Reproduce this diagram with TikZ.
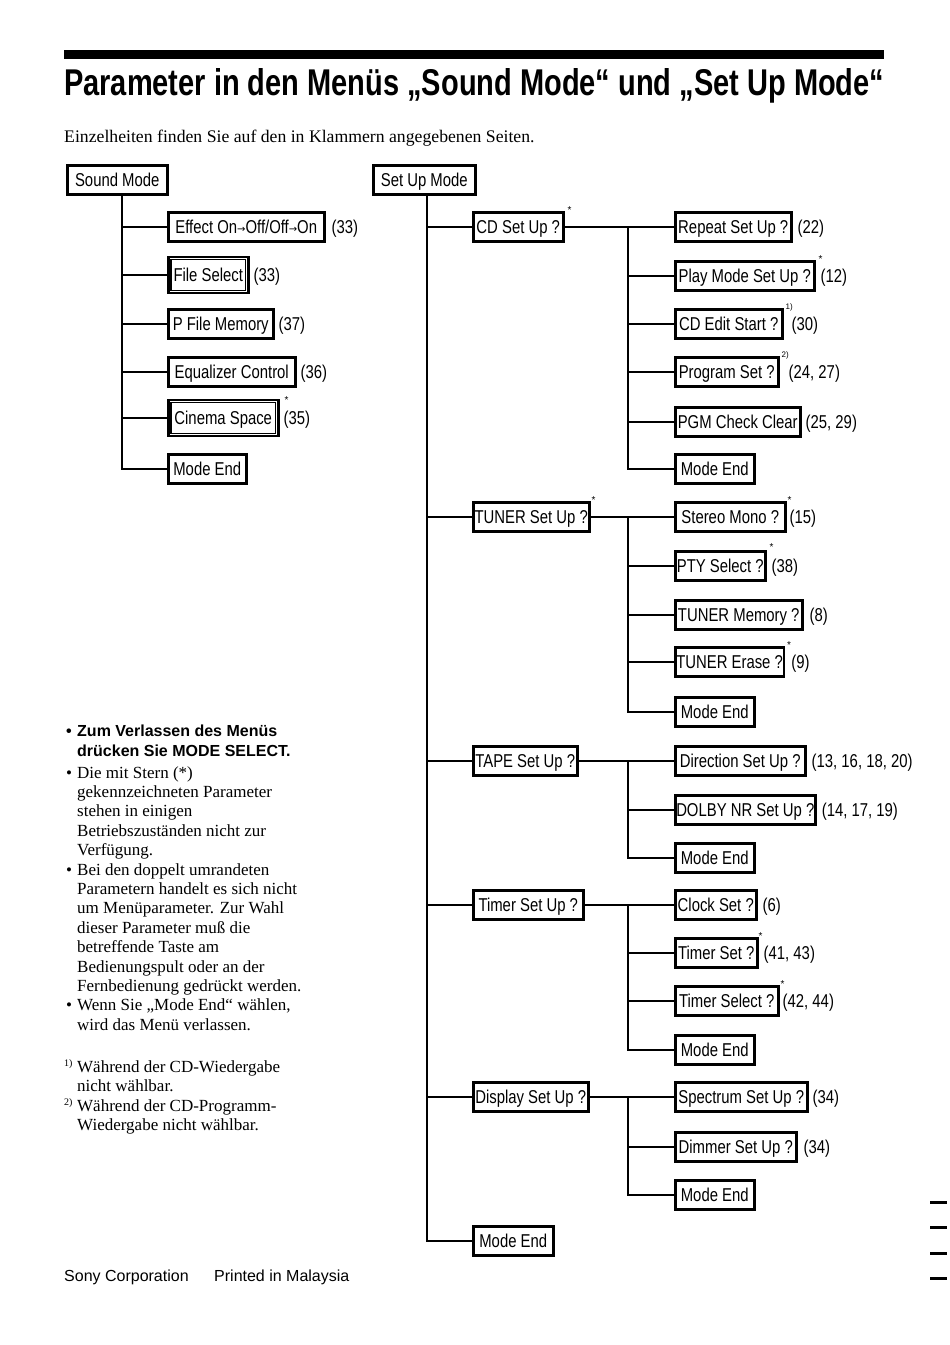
\documentclass[tikz,border=0pt]{standalone}
\usepackage{fontspec}
\usepackage{graphicx}
\setmainfont{Liberation Serif}
\newfontfamily\cond[FakeStretch=0.8]{Liberation Sans}
\newfontfamily\hsans{Liberation Sans}
\newfontfamily\djv{DejaVu Sans}
\usetikzlibrary{positioning}
\newcommand\arr{{\djv\fontsize{10}{10}\selectfont\raisebox{1.5pt}{→}}}
\begin{document}
\begin{tikzpicture}[x=1pt,y=-1pt,
  box/.style={draw, line width=2.5pt, minimum height=29pt, inner xsep=1pt, inner ysep=0pt, anchor=west,
    font=\cond\fontsize{18.6}{18.6}\selectfont, text height=13.3pt, text depth=0pt},
  dbox/.style={box, minimum height=36pt},
  pg/.style={inner sep=0pt, font=\cond\fontsize{18.6}{18.6}\selectfont, text height=13.3pt, text depth=0pt},
  stari/.style={inner sep=0pt, font=\hsans\fontsize{10}{10}\selectfont},
  supi/.style={anchor=west, inner sep=0pt, font=\hsans\fontsize{8}{8}\selectfont},
  conn/.style={line width=2.3pt},
  note/.style={anchor=base west, inner sep=0pt, font=\fontsize{17}{17}\selectfont},
  notebold/.style={anchor=base west, inner sep=0pt, font=\hsans\bfseries\fontsize{16}{16}\selectfont},
  fnm/.style={anchor=base west, inner sep=0pt, font=\fontsize{10}{10}\selectfont},
  foot/.style={anchor=base west, inner sep=0pt, font=\hsans\fontsize{16}{16}\selectfont}
]
\useasboundingbox (0,0) rectangle (950,1345);

% header
\fill (64,50) rectangle (884,59);
\node[anchor=base west, inner sep=0pt] (title) at (64,95)
  {\resizebox{820pt}{27pt}{\hsans\bfseries Parameter in den Menüs „Sound Mode“ und „Set Up Mode“}};
\node[note, font=\fontsize{17.7}{17.7}\selectfont] (sub) at (64,142) {Einzelheiten finden Sie auf den in Klammern angegebenen Seiten.};

% ---------------- Sound Mode ----------------
\node[box, minimum width=100pt] (sm) at (66,180) {Sound Mode};
\node[box, minimum width=156pt] (s1) at (167,227) {Effect On\arr Off/Off\arr On};
\node[dbox, minimum width=80pt] (s2) at (167,275) {File Select};
\node[box, minimum width=105pt] (s3) at (167,324) {P File Memory};
\node[box, minimum width=127pt] (s4) at (167,372) {Equalizer Control};
\node[dbox, minimum width=110pt] (s5) at (167,418) {Cinema Space};
\node[box, minimum width=78pt] (s6) at (167,469) {Mode End};
\draw[line width=1.4pt] ([xshift=4pt,yshift=-4pt]s2.north west) rectangle ([xshift=-4pt,yshift=4pt]s2.south east);
\draw[line width=1.4pt] ([xshift=4pt,yshift=-4pt]s5.north west) rectangle ([xshift=-4pt,yshift=4pt]s5.south east);
\node[pg, right=6pt of s1] (s1p) {(33)};
\node[pg, right=4pt of s2] (s2p) {(33)};
\node[pg, right=4pt of s3] (s3p) {(37)};
\node[pg, right=4pt of s4] (s4p) {(36)};
\node[pg, right=4pt of s5] (s5p) {(35)};
\node[stari] (s5s) at ([xshift=7pt,yshift=-1pt]s5.north east) {*};
\coordinate (smt) at ([xshift=5pt]sm.south);
\foreach \c in {s1,s2,s3,s4,s5,s6} \draw[conn] (smt) |- (\c.west);

% ---------------- Set Up Mode ----------------
\node[box, minimum width=102pt] (su) at (372,180) {Set Up Mode};
\node[box, minimum width=90pt] (cd) at (472,227) {CD Set Up ?};
\node[box, minimum width=116pt] (tu) at (472,517) {TUNER Set Up ?};
\node[box, minimum width=104pt] (ta) at (472,761) {TAPE Set Up ?};
\node[box, minimum width=110pt] (ti) at (472,905) {Timer Set Up ?};
\node[box, minimum width=115pt] (di) at (472,1097) {Display Set Up ?};
\node[box, minimum width=80pt] (me) at (472,1241) {Mode End};
\node[stari] (cds) at ([xshift=5pt,yshift=1pt]cd.north east) {*};
\node[stari] (tus) at ([xshift=3pt,yshift=1pt]tu.north east) {*};
\coordinate (sut) at ([xshift=3pt]su.south);
\foreach \c in {cd,tu,ta,ti,di,me} \draw[conn] (sut) |- (\c.west);

% CD
\node[box, minimum width=116pt] (r1) at (674,227) {Repeat Set Up ?};
\node[box, minimum width=139pt] (r2) at (674,276) {Play Mode Set Up ?};
\node[box, minimum width=107pt] (r3) at (674,324) {CD Edit Start ?};
\node[box, minimum width=103pt] (r4) at (674,372) {Program Set ?};
\node[box, minimum width=125pt] (r5) at (674,422) {PGM Check Clear};
\node[box, minimum width=79pt] (r6) at (674,469) {Mode End};
\node[pg, right=5pt of r1] (r1p) {(22)};
\node[pg, right=5pt of r2] (r2p) {(12)};
\node[pg, right=8pt of r3] (r3p) {(30)};
\node[pg, right=9pt of r4] (r4p) {(24, 27)};
\node[pg, right=4pt of r5] (r5p) {(25, 29)};
\node[stari] (r2s) at ([xshift=5pt,yshift=1pt]r2.north east) {*};
\node[supi] (r3s) at ([xshift=2pt,yshift=1pt]r3.north east) {1)};
\node[supi] (r4s) at ([xshift=2pt,yshift=1pt]r4.north east) {2)};
\coordinate (cdj) at (628,227);
\draw[conn] (cd.east) -- (cdj);
\foreach \c in {r1,r2,r3,r4,r5,r6} \draw[conn] (cdj) |- (\c.west);

% TUNER
\node[box, minimum width=110pt] (t1) at (674,517) {Stereo Mono ?};
\node[box, minimum width=90pt] (t2) at (674,566) {PTY Select ?};
\node[box, minimum width=127pt] (t3) at (674,615) {TUNER Memory ?};
\node[box, minimum width=105pt] (t4) at (674,662) {TUNER Erase ?};
\node[box, minimum width=79pt] (t5) at (674,712) {Mode End};
\node[pg, right=3pt of t1] (t1p) {(15)};
\node[pg, right=5pt of t2] (t2p) {(38)};
\node[pg, right=6pt of t3] (t3p) {(8)};
\node[pg, right=6pt of t4] (t4p) {(9)};
\node[stari] (t1s) at ([xshift=3pt,yshift=1pt]t1.north east) {*};
\node[stari] (t2s) at ([xshift=5pt,yshift=3pt]t2.north east) {*};
\node[stari] (t4s) at ([xshift=4pt,yshift=1pt]t4.north east) {*};
\coordinate (tuj) at (628,517);
\draw[conn] (tu.east) -- (tuj);
\foreach \c in {t1,t2,t3,t4,t5} \draw[conn] (tuj) |- (\c.west);

% TAPE
\node[box, minimum width=130pt] (p1) at (674,761) {Direction Set Up ?};
\node[box, minimum width=139pt] (p2) at (674,810) {DOLBY NR Set Up ?};
\node[box, minimum width=79pt] (p3) at (674,858) {Mode End};
\node[pg, right=5pt of p1] (p1p) {(13, 16, 18, 20)};
\node[pg, right=5pt of p2] (p2p) {(14, 17, 19)};
\coordinate (taj) at (628,761);
\draw[conn] (ta.east) -- (taj);
\foreach \c in {p1,p2,p3} \draw[conn] (taj) |- (\c.west);

% Timer
\node[box, minimum width=81pt] (m1) at (674,905) {Clock Set ?};
\node[box, minimum width=82pt] (m2) at (674,953) {Timer Set ?};
\node[box, minimum width=103pt] (m3) at (674,1001) {Timer Select ?};
\node[box, minimum width=79pt] (m4) at (674,1050) {Mode End};
\node[pg, right=5pt of m1] (m1p) {(6)};
\node[pg, right=5pt of m2] (m2p) {(41, 43)};
\node[pg, right=3pt of m3] (m3p) {(42, 44)};
\node[stari] (m2s) at ([xshift=2pt,yshift=1pt]m2.north east) {*};
\node[stari] (m3s) at ([xshift=3pt,yshift=1pt]m3.north east) {*};
\coordinate (tij) at (628,905);
\draw[conn] (ti.east) -- (tij);
\foreach \c in {m1,m2,m3,m4} \draw[conn] (tij) |- (\c.west);

% Display
\node[box, minimum width=132pt] (d1) at (674,1097) {Spectrum Set Up ?};
\node[box, minimum width=121pt] (d2) at (674,1147) {Dimmer Set Up ?};
\node[box, minimum width=79pt] (d3) at (674,1195) {Mode End};
\node[pg, right=4pt of d1] (d1p) {(34)};
\node[pg, right=6pt of d2] (d2p) {(34)};
\coordinate (dij) at (628,1097);
\draw[conn] (di.east) -- (dij);
\foreach \c in {d1,d2,d3} \draw[conn] (dij) |- (\c.west);

% ---------------- notes ----------------
\node[notebold] (b1) at (66,736) {•};
\node[notebold] (n1) at (77,736) {Zum Verlassen des Menüs};
\node[notebold] (n2) at (77,756) {drücken Sie MODE SELECT.};
\node[note] (b2) at (66,778) {•};
\node[note] (n3) at (77,778) {Die mit Stern (*)};
\node[note] (n4) at (77,797.4) {gekennzeichneten Parameter};
\node[note] (n5) at (77,816.8) {stehen in einigen};
\node[note] (n6) at (77,836.2) {Betriebszuständen nicht zur};
\node[note] (n7) at (77,855.6) {Verfügung.};
\node[note] (b3) at (66,875) {•};
\node[note] (n8) at (77,875) {Bei den doppelt umrandeten};
\node[note] (n9) at (77,894.4) {Parametern handelt es sich nicht};
\node[note] (n10) at (77,913.8) {um Menüparameter. Zur Wahl};
\node[note] (n11) at (77,933.2) {dieser Parameter muß die};
\node[note] (n12) at (77,952.6) {betreffende Taste am};
\node[note] (n13) at (77,972) {Bedienungspult oder an der};
\node[note] (n14) at (77,991.4) {Fernbedienung gedrückt werden.};
\node[note] (b4) at (66,1010.8) {•};
\node[note] (n15) at (77,1010.8) {Wenn Sie „Mode End“ wählen,};
\node[note] (n16) at (77,1030.2) {wird das Menü verlassen.};

\node[fnm] (f1m) at (64,1066) {1)};
\node[note] (f1a) at (77,1072) {Während der CD-Wiedergabe};
\node[note] (f1b) at (77,1091) {nicht wählbar.};
\node[fnm] (f2m) at (64,1105) {2)};
\node[note] (f2a) at (77,1111) {Während der CD-Programm-};
\node[note] (f2b) at (77,1130) {Wiedergabe nicht wählbar.};

% footer
\node[foot] (ft1) at (64,1281) {Sony Corporation};
\node[foot] (ft2) at (214,1281) {Printed in Malaysia};

% margin marks
\foreach \yy in {1202,1227,1253,1278} \draw[line width=3pt] (930,\yy) -- (947,\yy);
\end{tikzpicture}
\end{document}
